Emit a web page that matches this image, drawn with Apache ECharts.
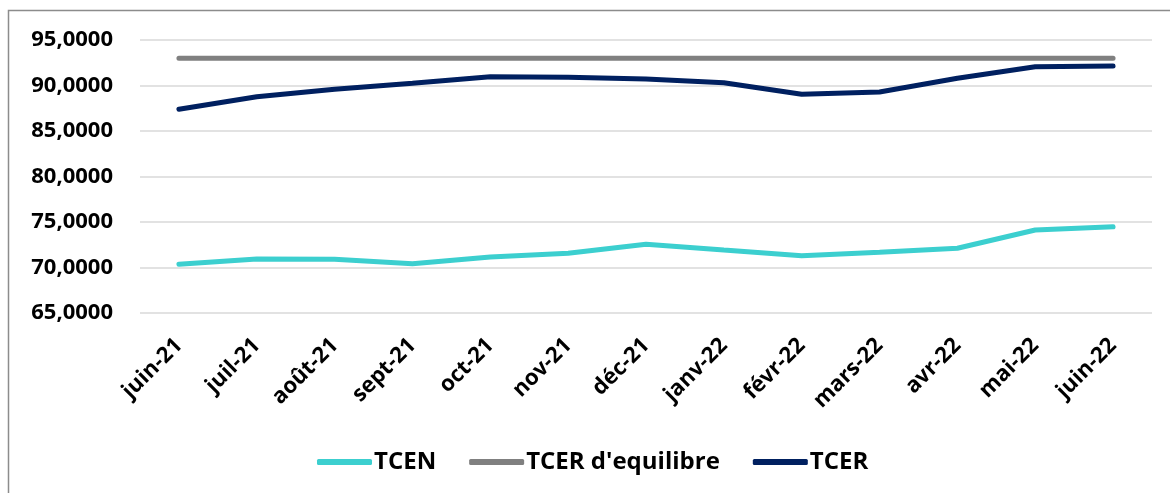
<!DOCTYPE html>
<html>
<head>
<meta charset="utf-8">
<script src="https://cdn.jsdelivr.net/npm/echarts@6/dist/echarts.min.js"></script>
<style>
  html, body { margin: 0; padding: 0; background: #fff; }
  #chart { width: 1170px; height: 493px; }
</style>
</head>
<body>
<div id="chart"></div>
<script>
const months = ["juin-21", "juil-21", "août-21", "sept-21", "oct-21", "nov-21", "déc-21",
  "janv-22", "févr-22", "mars-22", "avr-22", "mai-22", "juin-22"];
const tcen = [70.35, 70.93, 70.90, 70.42, 71.15, 71.56, 72.55, 71.92, 71.30, 71.67, 72.11, 74.12, 74.48];
const tcerEquilibre = [93.0, 93.0, 93.0, 93.0, 93.0, 93.0, 93.0, 93.0, 93.0, 93.0, 93.0, 93.0, 93.0];
const tcer = [87.38, 88.77, 89.58, 90.24, 90.97, 90.90, 90.71, 90.31, 89.03, 89.29, 90.79, 92.07, 92.14];

const font = "'Open Sans', 'Liberation Sans', sans-serif";
const chart = echarts.init(document.getElementById("chart"));

function lineSeries(name, data, color) {
  return {
    name: name,
    type: "line",
    data: data,
    symbol: "none",
    lineStyle: { width: 5, color: color, cap: "round" },
    itemStyle: { color: color }
  };
}

chart.setOption({
  animation: false,
  graphic: [{
    type: "rect",
    shape: { x: 8.5, y: 10.5, width: 1300, height: 600 },
    style: { fill: "none", stroke: "#8c8c8c", lineWidth: 1.5 },
    silent: true
  }],
  grid: { left: 140, right: 18, top: 40, bottom: 180 },
  legend: {
    left: 312,
    top: 445,
    icon: "roundRect",
    itemWidth: 55,
    itemHeight: 6,
    itemGap: 33,
    textStyle: { fontFamily: font, fontWeight: "bold", fontSize: 24, color: "#000", padding: [0, 0, 0, -3] },
    data: ["TCEN", "TCER d'equilibre", "TCER"]
  },
  xAxis: {
    type: "category",
    data: months,
    boundaryGap: true,
    axisLine: { show: false },
    axisTick: { show: false },
    axisLabel: {
      rotate: 45,
      margin: 29,
      interval: 0,
      fontFamily: font,
      fontWeight: "bold",
      fontSize: 22,
      color: "#000"
    }
  },
  yAxis: {
    type: "value",
    min: 65,
    max: 95,
    interval: 5,
    axisLine: { show: false },
    axisTick: { show: false },
    splitLine: { lineStyle: { color: "#d9d9d9", width: 1.5 } },
    axisLabel: {
      margin: 27,
      fontFamily: font,
      fontWeight: "bold",
      fontSize: 22,
      color: "#000",
      formatter: v => v.toFixed(4).replace(".", ",")
    }
  },
  series: [
    lineSeries("TCEN", tcen, "#3ccfcf"),
    lineSeries("TCER d'equilibre", tcerEquilibre, "#808080"),
    lineSeries("TCER", tcer, "#002060")
  ]
});
</script>
</body>
</html>
